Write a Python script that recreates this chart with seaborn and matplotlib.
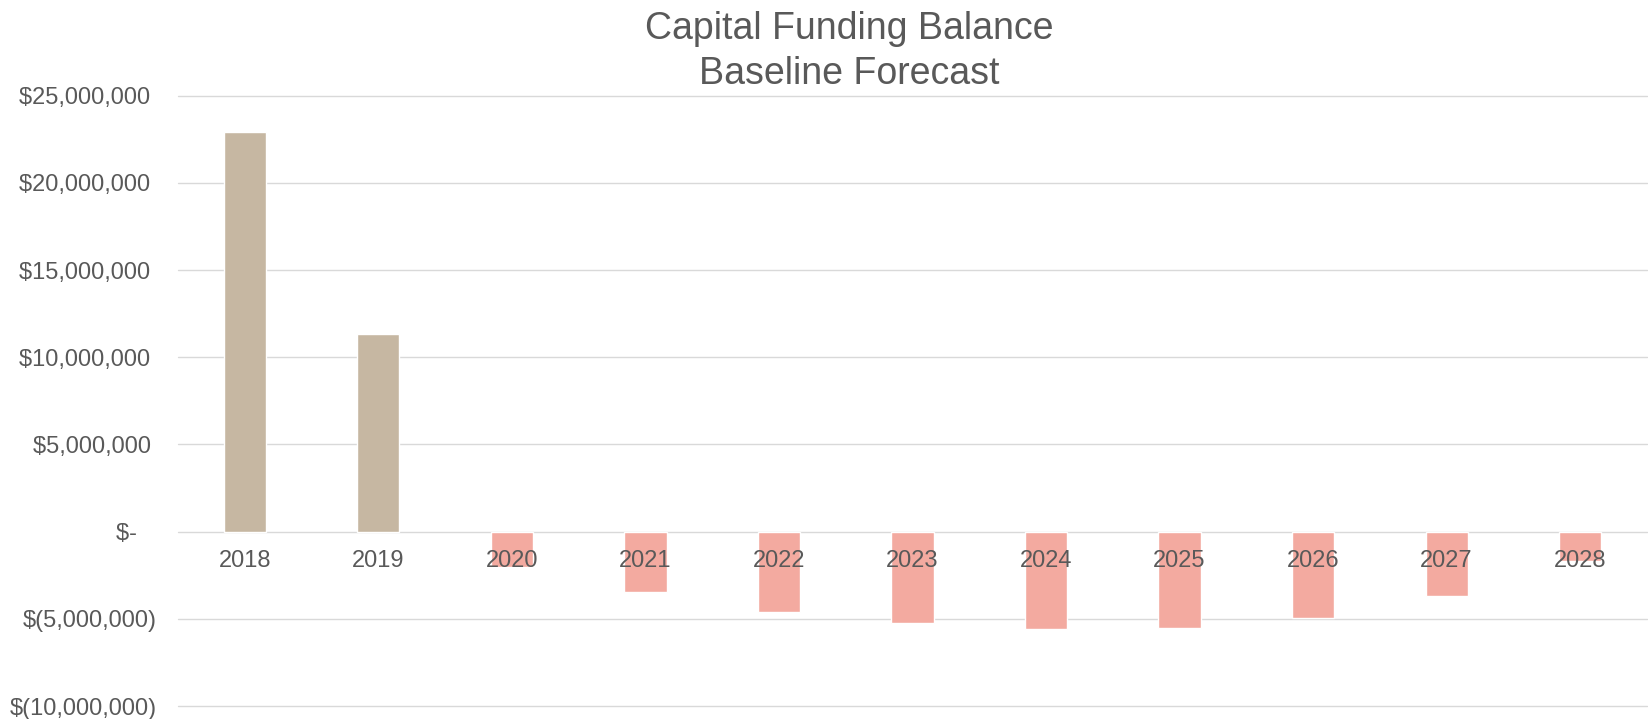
import matplotlib
matplotlib.use("Agg")
import matplotlib.pyplot as plt
import seaborn as sns
import pandas as pd
from matplotlib.ticker import FuncFormatter, FixedLocator

years = ["2018", "2019", "2020", "2021", "2022", "2023", "2024", "2025", "2026", "2027", "2028"]
balance = [22920000, 11340000, -2000000, -3460000, -4620000, -5240000, -5580000, -5540000, -4950000, -3690000, -1700000]
y_ticks = [-10000000, -5000000, 0, 5000000, 10000000, 15000000, 20000000, 25000000]
title_lines = ["Capital Funding Balance", "Baseline Forecast"]

POS_COLOR = "#C6B7A2"
NEG_COLOR = "#F3AAA0"
TEXT_COLOR = "#595959"
GRID_COLOR = "#D9D9D9"

sns.set_theme(style="white")
plt.rcParams["font.family"] = ["Liberation Sans", "DejaVu Sans"]

df = pd.DataFrame({"year": years, "balance": balance})
palette = {y: (POS_COLOR if v >= 0 else NEG_COLOR) for y, v in zip(years, balance)}

fig = plt.figure(figsize=(16.48, 7.19), dpi=100)
ax = fig.add_axes([178 / 1648, 13 / 719, (1647 - 178) / 1648, (706 - 95.7) / 719])

sns.barplot(data=df, x="year", y="balance", hue="year", palette=palette,
            legend=False, width=0.316, ax=ax, saturation=1, zorder=1)

ax.set_xlim(-0.5, len(years) - 0.5)
ax.set_ylim(y_ticks[0], y_ticks[-1])
ax.yaxis.set_major_locator(FixedLocator(y_ticks))

for t in y_ticks:
    ax.axhline(t, color=GRID_COLOR, linewidth=1.0, zorder=0, clip_on=False)

def fmt(v, pos):
    if abs(v) < 1:
        return "$-   "
    if v < 0:
        return "$({:,.0f})".format(abs(v))
    return "${:,.0f} ".format(v)

ax.yaxis.set_major_formatter(FuncFormatter(fmt))
ax.grid(False)
for s in ax.spines.values():
    s.set_visible(False)
ax.spines["bottom"].set_position(("data", 0))
ax.set_xlabel("")
ax.set_ylabel("")
ax.tick_params(axis="y", length=0, pad=15, labelsize=17, labelcolor=TEXT_COLOR)
ax.tick_params(axis="x", length=0, pad=13, labelsize=17, labelcolor=TEXT_COLOR)
ax.set_axisbelow(False)
ax.xaxis.set_zorder(5)

fig.text(849 / 1648, 1 - 29 / 719, title_lines[0], ha="center", va="center",
         fontsize=27, color=TEXT_COLOR)
fig.text(849 / 1648, 1 - 74.5 / 719, title_lines[1], ha="center", va="center",
         fontsize=27, color=TEXT_COLOR)

fig.savefig("out.png", dpi=100, facecolor="white")
